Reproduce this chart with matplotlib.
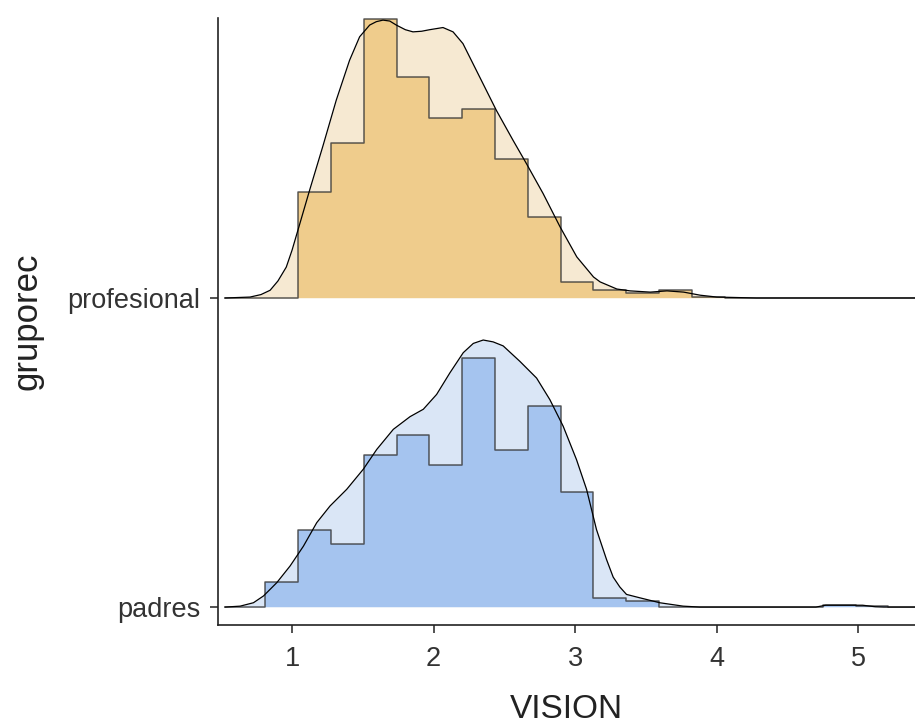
import matplotlib.pyplot as plt
import numpy as np

plt.rcParams['font.family'] = ['Liberation Sans', 'DejaVu Sans']

groups = ['padres', 'profesional']

# histogram bins shared by both groups
bin_lo = 0.812
bin_w = 0.2316

# bar heights per bin, in ridge units (1 = spacing between groups)
padres_hist = [0.082, 0.249, 0.203, 0.493, 0.556, 0.460, 0.807, 0.508, 0.650,
               0.373, 0.030, 0.020, 0.0, 0.0, 0.0, 0.0, 0.0, 0.006, 0.003]
prof_hist = [0.0, 0.343, 0.500, 0.902, 0.715, 0.583, 0.611, 0.449, 0.262,
             0.052, 0.026, 0.016, 0.025, 0.003]

# density curves, same units
padres_x = [0.527, 0.633, 0.727, 0.798, 0.892, 0.986, 1.080, 1.174, 1.268, 1.386,
            1.503, 1.598, 1.715, 1.833, 1.927, 2.021, 2.115, 2.209, 2.280, 2.350,
            2.420, 2.491, 2.609, 2.727, 2.821, 2.915, 3.009, 3.080, 3.150, 3.221,
            3.268, 3.315, 3.362, 3.456, 3.597, 3.762, 3.880, 4.700, 4.770, 4.890,
            5.030, 5.120, 5.180, 5.400]
padres_y = [0.0, 0.003, 0.014, 0.036, 0.079, 0.133, 0.197, 0.273, 0.327, 0.381,
            0.446, 0.510, 0.575, 0.616, 0.640, 0.688, 0.758, 0.823, 0.853, 0.864,
            0.858, 0.845, 0.795, 0.741, 0.671, 0.585, 0.477, 0.381, 0.251, 0.154,
            0.097, 0.065, 0.041, 0.030, 0.014, 0.003, 0.0, 0.0, 0.006, 0.006,
            0.006, 0.001, 0.0, 0.0]
prof_x = [0.527, 0.703, 0.780, 0.845, 0.900, 0.959, 1.000, 1.041, 1.124, 1.218,
          1.312, 1.406, 1.477, 1.548, 1.595, 1.642, 1.690, 1.736, 1.800, 1.854,
          1.915, 1.972, 2.066, 2.137, 2.207, 2.325, 2.443, 2.561, 2.655, 2.773,
          2.893, 3.011, 3.129, 3.176, 3.294, 3.388, 3.530, 3.648, 3.766, 3.883,
          4.000, 4.280, 5.400]
prof_y = [0.0, 0.003, 0.011, 0.025, 0.055, 0.100, 0.155, 0.219, 0.349, 0.492,
          0.640, 0.769, 0.845, 0.883, 0.894, 0.899, 0.896, 0.883, 0.868, 0.861,
          0.863, 0.868, 0.875, 0.861, 0.823, 0.715, 0.607, 0.510, 0.435, 0.338,
          0.230, 0.133, 0.068, 0.052, 0.029, 0.023, 0.019, 0.023, 0.019, 0.009,
          0.003, 0.0, 0.0]

hists = {'padres': padres_hist, 'profesional': prof_hist}
dens = {'padres': (padres_x, padres_y), 'profesional': (prof_x, prof_y)}
fills = {'padres': ('#DAE6F6', '#A5C4EF'), 'profesional': ('#F6E9D2', '#EFCC8C')}

fig = plt.figure(figsize=(9.15, 7.27), dpi=100)
ax = fig.add_axes([0.2383, 0.1403, 0.7617, 0.8350])

for i, g in enumerate(groups):
    base = i + 1
    light, dark = fills[g]
    dx, dy = np.array(dens[g][0]), np.array(dens[g][1])
    ax.fill_between(dx, base, base + dy, color=light, lw=0, zorder=2 + 4 * i)

    h = np.array(hists[g])
    edges = bin_lo + bin_w * np.arange(len(h) + 1)
    # step outline from the start of the data to its end
    sx = np.concatenate([[dx[0]], np.repeat(edges, 2), [dx[-1]]])
    sy = np.concatenate([[0, 0], np.repeat(h, 2), [0, 0]])
    ax.fill_between(sx, base, base + sy, color=dark, lw=0, zorder=3 + 4 * i)
    ax.plot(sx, base + sy, color='#333333', lw=1.1, alpha=0.8, zorder=4 + 4 * i)
    ax.plot(dx, base + dy, color='black', lw=0.9, zorder=5 + 4 * i)

ax.set_xlim(0.477, 5.40)
ax.set_ylim(0.942, 2.906)
ax.set_xticks([1, 2, 3, 4, 5])
ax.set_yticks([1, 2])
ax.set_yticklabels(groups)
ax.tick_params(axis='both', labelsize=19.5, colors='#333333', length=6, width=1.2,
               labelcolor='#333333')
ax.tick_params(axis='x', pad=9)
ax.tick_params(axis='y', pad=7)
for s in ['top', 'right']:
    ax.spines[s].set_visible(False)
for s in ['left', 'bottom']:
    ax.spines[s].set_linewidth(1.2)
    ax.spines[s].set_color('#222222')
ax.set_xlabel('VISION', fontsize=24, color='#222222', labelpad=16)
ax.set_ylabel('gruporec', fontsize=25, color='#222222', labelpad=17)

fig.savefig('out.png', dpi=100)
